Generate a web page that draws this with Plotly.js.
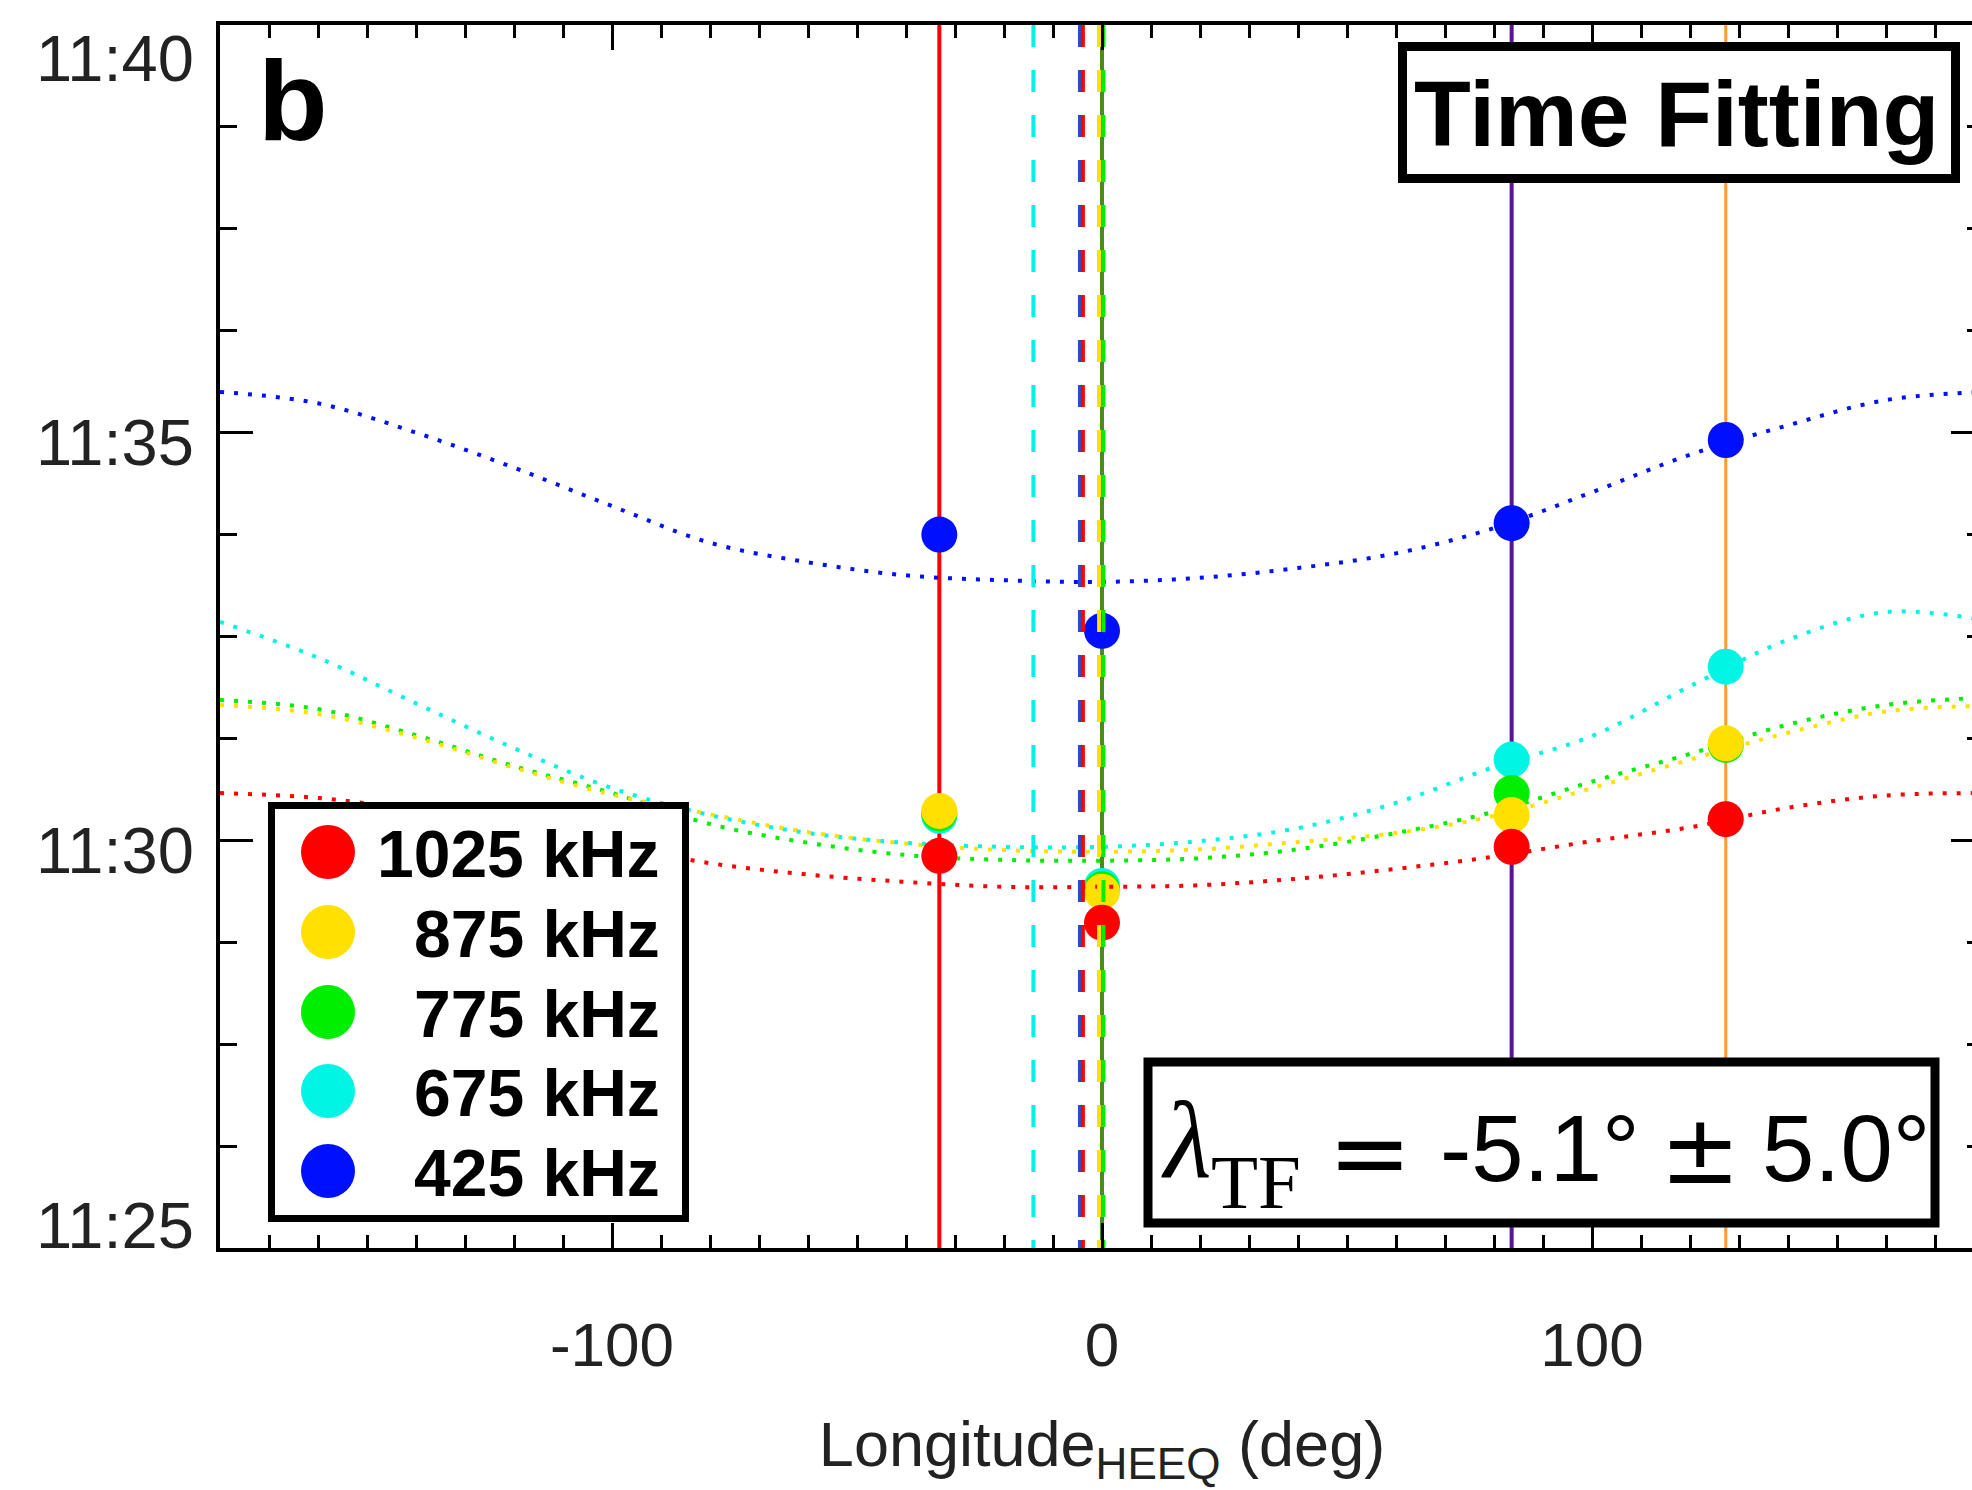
<!DOCTYPE html>
<html><head><meta charset="utf-8">
<script src="https://cdn.plot.ly/plotly-3.0.1.min.js"></script>
<style>html,body{margin:0;padding:0;overflow:hidden;background:#fff;width:1972px;height:1490px}#chart{width:2000px;height:1490px}</style>
</head><body><div id="chart"></div><script>
// ---------------- data ----------------
const freqLabels = ['425 kHz', '675 kHz', '775 kHz', '875 kHz', '1025 kHz'];
const freqColors = ['#0010ff', '#00f5e4', '#00ee00', '#ffe000', '#ff0000'];
// fitted timing curves (minutes after 11:00) vs longitude
const lonGrid = [-180,-160,-140,-120,-100,-80,-60,-40,-20,0,20,40,60,80,100,120,140,160,180];
const fit425  = [35.50,35.36,35.00,34.57,34.10,33.65,33.41,33.25,33.19,33.17,33.22,33.34,33.52,33.83,34.27,34.73,35.09,35.40,35.50];
const fit675  = [32.68,32.24,31.68,31.13,30.64,30.31,30.09,29.97,29.92,29.92,29.99,30.15,30.46,30.90,31.28,31.89,32.46,32.80,32.70];
const fit775  = [31.72,31.61,31.29,30.91,30.58,30.20,29.97,29.82,29.76,29.75,29.78,29.89,30.09,30.35,30.72,31.06,31.42,31.66,31.75];
const fit875  = [31.66,31.55,31.26,30.89,30.56,30.32,30.10,29.96,29.88,29.86,29.89,29.98,30.09,30.30,30.64,30.99,31.32,31.58,31.65];
const fit1025 = [30.58,30.52,30.37,30.18,29.94,29.72,29.58,29.49,29.43,29.43,29.45,29.53,29.65,29.80,29.99,30.16,30.40,30.55,30.58];
// spacecraft longitudes and observed onset times
const scLon    = [-33.2, 0.0, 83.6, 127.3];
const scColors = ['#ff0000', '#4a8c1c', '#5b1496', '#ff9a2e'];
const obs425  = [33.75, 32.57, 33.89, 34.91];
const obs675  = [30.30, 29.44, 30.99, 32.13];
const obs775  = [30.33, 29.40, 30.58, 31.17];
const obs875  = [30.36, 29.37, 30.31, 31.19];
const obs1025 = [29.81, 28.99, 29.92, 30.26];
// fitted source longitude for each frequency (dashed lines)
const fitLon = [-4.5, -14.0, 0.3, -0.6, -3.9];
// axis ticks
const xTickVals = [-100, 0, 100];
const xTickText = ['-100', '0', '100'];
const yTickVals = [25, 30, 35, 40];
const yTickText = ['11:25', '11:30', '11:35', '11:40'];
const lambdaValue = '-5.1°';
const lambdaError = '5.0°';

const fits = [fit425, fit675, fit775, fit875, fit1025];
const obs  = [obs425, obs675, obs775, obs875, obs1025];

// ---------------- geometry helpers ----------------
const W = 2000, H = 1490, L = 220, R = 16, T = 25, B = 242;
const PW = W - L - R, PH = H - T - B;
const px = x => (x - L) / PW;
const py = y => (H - B - y) / PH;

const traces = [];
// spacecraft solid lines (below markers)
scLon.forEach((lon, i) => {
  traces.push({x: [lon, lon], y: [40, 25], mode: 'lines', showlegend: false, hoverinfo: 'skip',
    line: {color: scColors[i], width: i === 3 ? 3 : 4}});
});
// curves + observed markers per frequency
fits.forEach((f, i) => {
  traces.push({x: lonGrid, y: f, mode: 'lines', showlegend: false, hoverinfo: 'skip',
    line: {color: freqColors[i], width: 4, dash: '4px,10px', shape: 'spline', smoothing: 1}});
  traces.push({x: scLon, y: obs[i], mode: 'markers', showlegend: false, name: freqLabels[i],
    marker: {color: freqColors[i], size: 36, line: {width: 0}}});
});
// dashed fitted-longitude lines (drawn above markers)
const dashOrder = [2, 1, 0, 4, 3];
dashOrder.forEach(i => {
  traces.push({x: [fitLon[i], fitLon[i]], y: [40, 25], mode: 'lines', showlegend: false, hoverinfo: 'skip',
    line: {color: i === 0 ? '#2050d0' : (i === 1 ? '#00f0ea' : freqColors[i]), width: 4, dash: '22px,23px'}});
});

const shapes = [];
const annotations = [];
const boxLine = {color: '#000', width: 9};
// Time Fitting box
shapes.push({type: 'rect', xref: 'paper', yref: 'paper', layer: 'above',
  x0: px(1402.5), x1: px(1955.5), y0: py(178.5), y1: py(46.5), line: boxLine, fillcolor: '#fff'});
annotations.push({xref: 'paper', yref: 'paper', x: px(1676), y: py(114), xanchor: 'center', yanchor: 'middle',
  text: '<b>Time Fitting</b>', showarrow: false, font: {family: 'Liberation Sans', size: 93, color: '#000'}});
// lambda box
shapes.push({type: 'rect', xref: 'paper', yref: 'paper', layer: 'above',
  x0: px(1148), x1: px(1935), y0: py(1223), y1: py(1062), line: boxLine, fillcolor: '#fff'});
annotations.push({xref: 'paper', yref: 'paper', x: px(1186), y: py(1140), xanchor: 'center', yanchor: 'middle',
  text: '<i>λ</i>', showarrow: false, font: {family: 'Liberation Serif', size: 110, color: '#000'}});
annotations.push({xref: 'paper', yref: 'paper', x: px(1256), y: py(1182), xanchor: 'center', yanchor: 'middle',
  text: 'TF', showarrow: false, font: {family: 'Liberation Serif', size: 77, color: '#000'}});
annotations.push({xref: 'paper', yref: 'paper', x: px(1370), y: py(1152), xanchor: 'center', yanchor: 'middle',
  text: '=', showarrow: false, font: {family: 'DejaVu Sans', size: 100, color: '#000'}});
annotations.push({xref: 'paper', yref: 'paper', x: px(1438), y: py(1148), xanchor: 'left', yanchor: 'middle',
  text: lambdaValue, showarrow: false, font: {family: 'Liberation Sans', size: 94, color: '#000'}});
annotations.push({xref: 'paper', yref: 'paper', x: px(1700), y: py(1150), xanchor: 'center', yanchor: 'middle',
  text: '±', showarrow: false, font: {family: 'DejaVu Sans', size: 96, color: '#000'}});
annotations.push({xref: 'paper', yref: 'paper', x: px(1760), y: py(1148), xanchor: 'left', yanchor: 'middle',
  text: lambdaError, showarrow: false, font: {family: 'Liberation Sans', size: 94, color: '#000'}});
// legend box
shapes.push({type: 'rect', xref: 'paper', yref: 'paper', layer: 'above',
  x0: px(271.5), x1: px(685.5), y0: py(1218.5), y1: py(805.5), line: {color: '#000', width: 7}, fillcolor: '#fff'});
const legendY = [852, 932, 1012, 1091, 1171];
[4, 3, 2, 1, 0].forEach((fi, k) => {
  shapes.push({type: 'circle', xref: 'paper', yref: 'paper', layer: 'above',
    xsizemode: 'pixel', ysizemode: 'pixel', xanchor: px(328), yanchor: py(legendY[k]),
    x0: -27, x1: 27, y0: -27, y1: 27, fillcolor: freqColors[fi], line: {width: 0}});
  annotations.push({xref: 'paper', yref: 'paper', x: px(662), y: py(legendY[k] + 2), xanchor: 'right', yanchor: 'middle',
    text: '<b>' + freqLabels[fi] + '</b>', showarrow: false, font: {family: 'Liberation Sans', size: 66, color: '#000'}});
});
// panel letter
annotations.push({xref: 'paper', yref: 'paper', x: px(256), y: py(100), xanchor: 'left', yanchor: 'middle',
  text: '<b>b</b>', showarrow: false, font: {family: 'Liberation Sans', size: 114, color: '#000'}});
// y tick labels
yTickVals.forEach((v, i) => {
  const shift = (i === yTickVals.length - 1) ? -33 : (i === 0 ? 23 : -10);
  annotations.push({xref: 'paper', yref: 'y', x: 0, y: v, xanchor: 'right', yanchor: 'middle', xshift: -24, yshift: shift,
    text: yTickText[i], showarrow: false, font: {family: 'Liberation Sans', size: 65, color: '#222'}});
});

const layout = {
  width: W, height: H, margin: {l: L, r: R, t: T, b: B},
  paper_bgcolor: '#fff', plot_bgcolor: '#fff', showlegend: false,
  xaxis: {range: [-180, 180], tickvals: xTickVals, ticktext: xTickText, ticks: 'inside', ticklen: 25, tickwidth: 3,
    tickcolor: '#000', showline: true, linewidth: 4, linecolor: '#000', mirror: 'allticks', showgrid: false, zeroline: false,
    minor: {dtick: 10, tick0: 0, ticks: 'inside', ticklen: 13, tickwidth: 3, tickcolor: '#000', showgrid: false},
    tickfont: {family: 'Liberation Sans', size: 62, color: '#222'}, ticklabelstandoff: 40,
    title: {text: 'Longitude<sub>HEEQ</sub> (deg)', font: {family: 'Liberation Sans', size: 63, color: '#222'}, standoff: 44}},
  yaxis: {range: [25, 40], tickvals: yTickVals, showticklabels: false, ticks: 'inside', ticklen: 33, tickwidth: 3,
    tickcolor: '#000', showline: true, linewidth: 4, linecolor: '#000', mirror: 'allticks', showgrid: false, zeroline: false,
    minor: {dtick: 1.25, tick0: 25, ticks: 'inside', ticklen: 17, tickwidth: 3, tickcolor: '#000', showgrid: false}},
  shapes: shapes, annotations: annotations
};
Plotly.newPlot('chart', traces, layout, {staticPlot: true, displayModeBar: false});
</script></body></html>
